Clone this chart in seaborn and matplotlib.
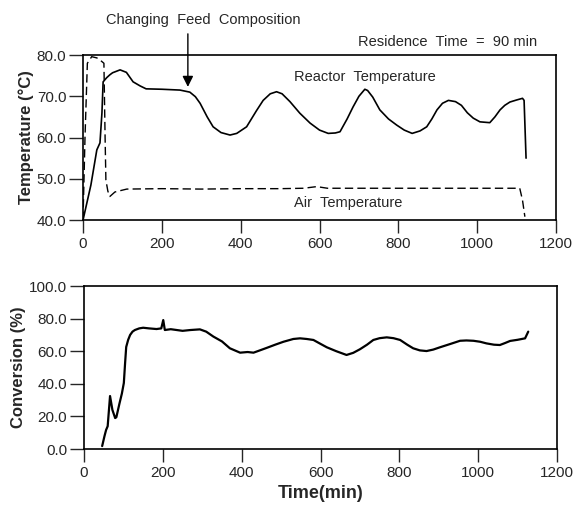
import matplotlib
matplotlib.use('Agg')
import matplotlib.pyplot as plt
import seaborn as sns
import pandas as pd

# reactor temperature (top panel)
reactor_t = [0, 20, 35, 43, 48, 51, 60, 68, 75, 94, 110, 127, 145, 160, 200, 246, 271, 285, 297,
             315, 330, 350, 373, 390, 415, 440, 457, 475, 491, 505, 525, 550, 576, 600, 622, 640,
             652, 670, 685, 700, 715, 722, 735, 753, 775, 796, 815, 835, 855, 872, 885, 898, 912,
             927, 945, 960, 975, 990, 1007, 1032, 1045, 1058, 1070, 1083, 1100, 1115, 1119, 1124]
reactor_T = [40.0, 48.5, 57.0, 58.7, 66.0, 73.5, 74.5, 75.2, 75.7, 76.4, 75.8, 73.5, 72.5, 71.8,
             71.7, 71.5, 71.0, 69.9, 68.3, 65.0, 62.6, 61.2, 60.6, 61.0, 62.6, 66.5, 69.0, 70.6,
             71.1, 70.6, 68.7, 65.9, 63.5, 61.8, 61.0, 61.1, 61.4, 64.5, 67.4, 70.0, 71.7, 71.4,
             69.8, 66.7, 64.5, 63.0, 61.8, 61.0, 61.6, 62.6, 64.5, 66.7, 68.3, 69.0, 68.7, 67.8,
             66.0, 64.7, 63.8, 63.6, 65.0, 66.7, 67.8, 68.6, 69.1, 69.5, 69.0, 55.0]

# air temperature (top panel, dashed)
air_t = [0, 5, 11, 22, 35, 43, 53, 56, 58, 63, 68, 81, 111, 200, 300, 400, 500, 560, 593,
         620, 700, 800, 900, 1000, 1108, 1115, 1121]
air_T = [40.0, 60.0, 78.0, 79.6, 79.3, 78.8, 78.0, 60.0, 49.7, 47.0, 45.7, 46.8, 47.5, 47.6,
         47.5, 47.6, 47.6, 47.7, 48.1, 47.7, 47.7, 47.7, 47.7, 47.7, 47.7, 44.8, 40.8]

# conversion (bottom panel)
conv_t = [46, 52, 56, 60, 66, 72, 79, 82, 90, 96, 101, 104, 107, 112, 117, 123, 129, 140, 150,
          165, 184, 196, 201, 205, 220, 235, 250, 270, 294, 310, 328, 350, 370, 396, 415, 430,
          446, 463, 485, 506, 531, 548, 565, 582, 600, 616, 640, 666, 683, 700, 718, 734, 750,
          768, 785, 802, 820, 835, 852, 869, 886, 903, 930, 954, 970, 988, 1005, 1021, 1040,
          1055, 1068, 1081, 1100, 1119, 1127]
conv_C = [1.8, 8.0, 11.7, 14.0, 32.5, 24.0, 19.0, 19.5, 28.0, 34.0, 40.5, 52.0, 62.6, 67.0,
          70.0, 72.0, 73.0, 74.0, 74.4, 74.0, 73.6, 74.0, 79.1, 73.0, 73.5, 73.0, 72.5, 73.0,
          73.4, 72.0, 69.0, 66.0, 61.8, 59.1, 59.5, 59.1, 60.5, 62.0, 64.0, 65.8, 67.5, 67.9,
          67.5, 66.9, 64.5, 62.4, 60.0, 57.7, 59.0, 61.2, 64.0, 66.9, 68.0, 68.5, 68.0, 66.9,
          64.0, 61.8, 60.5, 60.1, 61.0, 62.4, 64.5, 66.4, 66.6, 66.4, 65.8, 64.8, 64.0, 63.8,
          65.0, 66.3, 67.0, 67.9, 72.0]

sns.set_style('ticks')
plt.rcParams['font.family'] = ['Liberation Sans', 'DejaVu Sans']

fig = plt.figure(figsize=(5.88, 5.08), dpi=100)
ax1 = fig.add_axes([0.1412, 0.5669, 0.8044, 0.3248])
ax2 = fig.add_axes([0.1429, 0.1161, 0.8044, 0.3209])

sns.lineplot(data=pd.DataFrame({'t': reactor_t, 'T': reactor_T}), x='t', y='T', ax=ax1,
             color='black', lw=1.2, sort=False, estimator=None)
sns.lineplot(data=pd.DataFrame({'t': air_t, 'T': air_T}), x='t', y='T', ax=ax1,
             color='black', lw=1.0, sort=False, estimator=None, linestyle=(0, (6, 3)))
sns.lineplot(data=pd.DataFrame({'t': conv_t, 'C': conv_C}), x='t', y='C', ax=ax2,
             color='black', lw=1.6, sort=False, estimator=None)

ax1.set_xlim(0, 1200); ax1.set_ylim(40, 80)
ax2.set_xlim(0, 1200); ax2.set_ylim(0, 100)
ax1.set_xticks(range(0, 1201, 200)); ax2.set_xticks(range(0, 1201, 200))
ax1.set_yticks([40, 50, 60, 70, 80]); ax1.set_yticklabels([f'{v:.1f}' for v in [40, 50, 60, 70, 80]])
ax2.set_yticks([0, 20, 40, 60, 80, 100]); ax2.set_yticklabels([f'{v:.1f}' for v in [0, 20, 40, 60, 80, 100]])

for ax in (ax1, ax2):
    for s in ax.spines.values():
        s.set_visible(True); s.set_linewidth(1.2); s.set_color('black')
    ax.tick_params(axis='x', direction='out', length=9, width=1, pad=3, labelsize=11)
    ax.tick_params(axis='y', direction='out', length=10, width=1, pad=2, labelsize=11)
    ax.set_xlabel('')

ax1.set_ylabel('Temperature (°C)', fontsize=12, fontweight='bold', labelpad=2)
ax2.set_ylabel('Conversion (%)', fontsize=12, fontweight='bold', labelpad=2)
ax2.set_xlabel('Time(min)', fontsize=13, fontweight='bold', labelpad=4)

ax1.text(715, 74.7, 'Reactor  Temperature', fontsize=10.5, ha='center', va='center')
ax1.text(535, 44.1, 'Air  Temperature', fontsize=10.5, ha='left', va='center')
ax1.text(1152, 81.5, 'Residence  Time  =  90 min', fontsize=10.5, ha='right', va='bottom', clip_on=False)
ax1.annotate('', xy=(266, 71.6), xytext=(266, 85.8), annotation_clip=False,
             arrowprops=dict(arrowstyle='-|>', color='black', lw=1, mutation_scale=16))
ax1.text(304, 88.5, 'Changing  Feed  Composition', fontsize=10.5, ha='center', va='center', clip_on=False)

plt.savefig('out.png', dpi=100)
plt.close()
